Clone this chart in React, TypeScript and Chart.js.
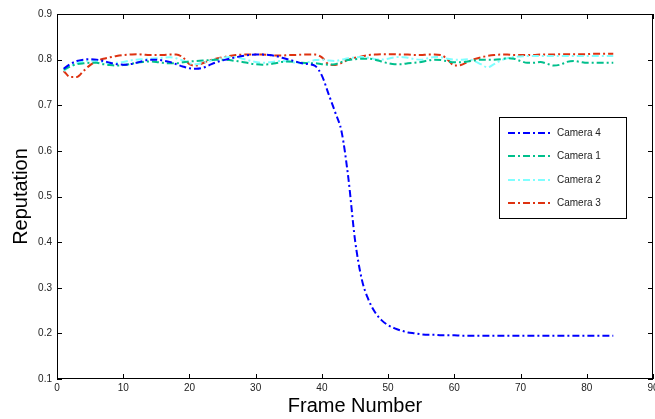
import React, { useEffect, useRef } from "react";
import { Chart, registerables } from "chart.js";

Chart.register(...registerables);

const frames: number[] = Array.from({ length: 84 }, (_, i) => i + 1);

const camera4: number[] = [
  0.780, 0.790, 0.797, 0.800, 0.801, 0.800, 0.797, 0.793, 0.790, 0.789,
  0.790, 0.793, 0.797, 0.800, 0.800, 0.798, 0.795, 0.790, 0.785, 0.781,
  0.780, 0.782, 0.788, 0.794, 0.798, 0.802, 0.805, 0.808, 0.810, 0.811,
  0.811, 0.810, 0.808, 0.804, 0.800, 0.796, 0.792, 0.790, 0.786, 0.765,
  0.725, 0.685, 0.640, 0.540, 0.405, 0.320, 0.275, 0.247, 0.229, 0.218,
  0.211, 0.206, 0.202, 0.200, 0.198, 0.197, 0.197, 0.196, 0.196, 0.196,
  0.195, 0.195, 0.195, 0.195, 0.195, 0.195, 0.195, 0.195, 0.195, 0.195,
  0.195, 0.195, 0.195, 0.195, 0.195, 0.195, 0.195, 0.195, 0.195, 0.195,
  0.195, 0.195, 0.195, 0.195,
];

const camera1: number[] = [
  0.778, 0.785, 0.790, 0.792, 0.793, 0.793, 0.790, 0.788, 0.787, 0.788,
  0.790, 0.793, 0.795, 0.796, 0.795, 0.793, 0.792, 0.792, 0.794, 0.796,
  0.797, 0.798, 0.799, 0.800, 0.800, 0.799, 0.797, 0.795, 0.792, 0.790,
  0.789, 0.790, 0.792, 0.795, 0.796, 0.795, 0.793, 0.792, 0.792, 0.790,
  0.789, 0.790, 0.795, 0.799, 0.801, 0.802, 0.802, 0.800, 0.796, 0.792,
  0.790, 0.790, 0.792, 0.793, 0.795, 0.798, 0.800, 0.799, 0.796, 0.794,
  0.794, 0.796, 0.798, 0.800, 0.800, 0.800, 0.801, 0.803, 0.802, 0.797,
  0.793, 0.793, 0.795, 0.791, 0.787, 0.789, 0.795, 0.797, 0.795, 0.793,
  0.793, 0.793, 0.793, 0.793,
];

const camera2: number[] = [
  0.775, 0.785, 0.792, 0.796, 0.798, 0.797, 0.794, 0.792, 0.793, 0.795,
  0.798, 0.800, 0.801, 0.802, 0.803, 0.804, 0.805, 0.803, 0.798, 0.792,
  0.790, 0.793, 0.797, 0.801, 0.804, 0.806, 0.805, 0.802, 0.798, 0.795,
  0.793, 0.794, 0.796, 0.797, 0.796, 0.793, 0.792, 0.795, 0.799, 0.800,
  0.798, 0.797, 0.800, 0.803, 0.805, 0.806, 0.804, 0.801, 0.800, 0.802,
  0.805, 0.806, 0.804, 0.801, 0.800, 0.803, 0.806, 0.805, 0.802, 0.800,
  0.800, 0.801, 0.797, 0.790, 0.783, 0.790, 0.798, 0.803, 0.806, 0.807,
  0.808, 0.808, 0.808, 0.808, 0.808, 0.808, 0.808, 0.808, 0.808, 0.808,
  0.808, 0.808, 0.808, 0.808,
];

const camera3: number[] = [
  0.775, 0.762, 0.762, 0.775, 0.788, 0.797, 0.802, 0.805, 0.808, 0.810,
  0.811, 0.812, 0.811, 0.810, 0.810, 0.810, 0.811, 0.811, 0.805, 0.790,
  0.787, 0.792, 0.798, 0.802, 0.805, 0.808, 0.810, 0.811, 0.811, 0.811,
  0.811, 0.810, 0.809, 0.809, 0.810, 0.810, 0.811, 0.811, 0.811, 0.805,
  0.790, 0.788, 0.793, 0.800, 0.804, 0.807, 0.810, 0.811, 0.812, 0.812,
  0.812, 0.811, 0.811, 0.810, 0.810, 0.811, 0.811, 0.810, 0.800, 0.787,
  0.788, 0.795, 0.801, 0.805, 0.808, 0.810, 0.811, 0.811, 0.810, 0.810,
  0.810, 0.810, 0.811, 0.811, 0.811, 0.812, 0.812, 0.812, 0.812, 0.812,
  0.813, 0.813, 0.813, 0.813,
];

const seriesNames: string[] = ["Camera 4", "Camera 1", "Camera 2", "Camera 3"];
const seriesColors: string[] = ["#0000ff", "#00bf8c", "#80ffff", "#de3210"];
const xTicks: number[] = [0, 10, 20, 30, 40, 50, 60, 70, 80, 90];
const yTicks: number[] = [0.1, 0.2, 0.3, 0.4, 0.5, 0.6, 0.7, 0.8, 0.9];

const DASH = [7, 3, 2, 3];
const FONT = "'Liberation Sans', Arial, Helvetica, sans-serif";

const frameAndTicks = {
  id: "frameAndTicks",
  afterDraw(chart: any) {
    const { ctx, chartArea: a, scales } = chart;
    ctx.save();
    ctx.strokeStyle = "#000";
    ctx.lineWidth = 1;
    ctx.strokeRect(a.left + 0.5, a.top + 0.5, a.right - a.left - 1, a.bottom - a.top - 1);
    const L = 5;
    ctx.beginPath();
    xTicks.forEach((v) => {
      const x = Math.round(scales.x.getPixelForValue(v)) + 0.5;
      ctx.moveTo(x, a.bottom);
      ctx.lineTo(x, a.bottom - L);
      ctx.moveTo(x, a.top);
      ctx.lineTo(x, a.top + L);
    });
    yTicks.forEach((v) => {
      const y = Math.round(scales.y.getPixelForValue(v)) + 0.5;
      ctx.moveTo(a.left, y);
      ctx.lineTo(a.left + L, y);
      ctx.moveTo(a.right, y);
      ctx.lineTo(a.right - L, y);
    });
    ctx.stroke();

    // legend box
    const bx = 499, by = 117, bw = 127, bh = 101;
    ctx.fillStyle = "#fff";
    ctx.fillRect(bx, by, bw, bh);
    ctx.strokeStyle = "#000";
    ctx.strokeRect(bx + 0.5, by + 0.5, bw, bh);
    const rows = [133, 156, 180, 203];
    chart.data.datasets.forEach((ds: any, i: number) => {
      const y = rows[i];
      ctx.save();
      ctx.strokeStyle = ds.borderColor;
      ctx.lineWidth = 2;
      ctx.setLineDash(DASH);
      ctx.beginPath();
      ctx.moveTo(508, y);
      ctx.lineTo(551, y);
      ctx.stroke();
      ctx.restore();
      ctx.fillStyle = "#222";
      ctx.font = `10px ${FONT}`;
      ctx.textBaseline = "middle";
      ctx.textAlign = "left";
      ctx.fillText(ds.label, 557, y);
    });
    ctx.restore();
  },
};

export default function App() {
  const ref = useRef<HTMLCanvasElement | null>(null);
  useEffect(() => {
    document.body.style.margin = "0";
    if (!ref.current) return;
    const all = [camera4, camera1, camera2, camera3];
    const chart = new Chart(ref.current, {
      type: "line",
      data: {
        datasets: all.map((vals, i) => ({
          label: seriesNames[i],
          data: frames.map((f, j) => ({ x: f, y: vals[j] })),
          borderColor: seriesColors[i],
          backgroundColor: seriesColors[i],
          borderWidth: 2,
          borderDash: DASH,
          pointRadius: 0,
          fill: false,
          cubicInterpolationMode: "monotone" as const,
        })),
      },
      options: {
        responsive: false,
        animation: false,
        layout: { padding: { top: 14, right: 2, left: 0, bottom: 0 } },
        plugins: { legend: { display: false }, tooltip: { enabled: false } },
        scales: {
          x: {
            type: "linear",
            min: 0,
            max: 90,
            afterBuildTicks: (s: any) => {
              s.ticks = xTicks.map((v) => ({ value: v }));
            },
            afterFit: (s: any) => {
              s.height = 40;
              s.paddingLeft = 0;
              s.paddingRight = 0;
            },
            grid: { display: false, drawTicks: false },
            border: { display: false },
            ticks: {
              autoSkip: false,
              maxRotation: 0,
              padding: 3,
              color: "#222",
              font: { size: 10, family: FONT },
              callback: (v: any) => String(v),
            },
            title: {
              display: true,
              text: "Frame Number",
              color: "#000",
              font: { size: 20, family: FONT, lineHeight: 1 },
              padding: { top: 0, bottom: 3 },
            },
          },
          y: {
            type: "linear",
            min: 0.1,
            max: 0.9,
            afterBuildTicks: (s: any) => {
              s.ticks = yTicks.map((v) => ({ value: v }));
            },
            afterFit: (s: any) => {
              s.width = 57;
              s.paddingTop = 0;
              s.paddingBottom = 0;
            },
            grid: { display: false, drawTicks: false },
            border: { display: false },
            ticks: {
              padding: 5,
              color: "#222",
              font: { size: 10, family: FONT },
              callback: (v: any) => Number(v).toFixed(1),
            },
            title: {
              display: true,
              text: "Reputation",
              color: "#000",
              font: { size: 20, family: FONT, lineHeight: 1 },
              padding: { top: 11, bottom: 0 },
            },
          },
        },
      },
      plugins: [frameAndTicks],
    });
    return () => chart.destroy();
  }, []);
  return (
    <div style={{ width: 655, height: 419 }}>
      <canvas ref={ref} width={655} height={419} style={{ display: "block" }} />
    </div>
  );
}
